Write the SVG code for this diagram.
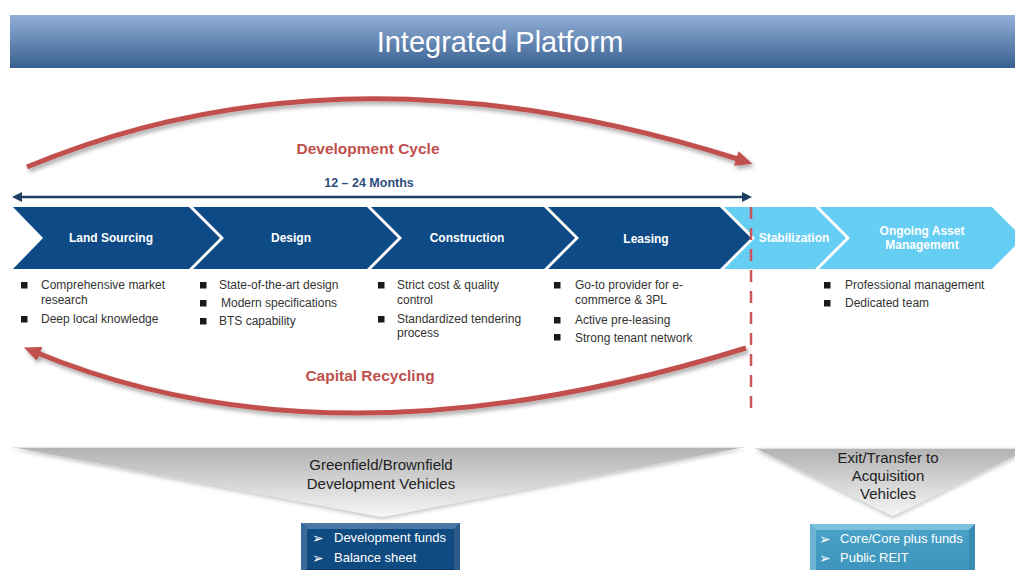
<svg xmlns="http://www.w3.org/2000/svg" width="1015" height="570" viewBox="0 0 1015 570">
<defs>
<linearGradient id="hdr" x1="0" y1="0" x2="0" y2="1">
<stop offset="0" stop-color="#92b0d8"/>
<stop offset="1" stop-color="#386090"/>
</linearGradient>
<linearGradient id="funnel" x1="0" y1="0" x2="0" y2="1">
<stop offset="0" stop-color="#b2b2b2"/>
<stop offset="1" stop-color="#f6f6f6"/>
</linearGradient>
<linearGradient id="teal" x1="0" y1="0" x2="0" y2="1">
<stop offset="0" stop-color="#4aa3c9"/>
<stop offset="1" stop-color="#3d93bb"/>
</linearGradient>
<filter id="shadow" x="-10%" y="-30%" width="120%" height="160%">
<feDropShadow dx="2" dy="3" stdDeviation="2" flood-color="#000" flood-opacity="0.35"/>
</filter>
<filter id="softshadow" x="-5%" y="-10%" width="110%" height="130%">
<feDropShadow dx="0" dy="2" stdDeviation="2" flood-color="#000" flood-opacity="0.25"/>
</filter>
<marker id="redhead" viewBox="0 0 17 15" markerWidth="17" markerHeight="15" refX="5" refY="7.5" orient="auto" markerUnits="userSpaceOnUse">
<path d="M0,0 L17,7.5 L0,15 z" fill="#c0504d"/>
</marker>
<marker id="navyhead" viewBox="0 0 10 10" markerWidth="10" markerHeight="10" refX="2" refY="5" orient="auto-start-reverse" markerUnits="userSpaceOnUse">
<path d="M0,0 L10,5 L0,10 z" fill="#1d3f61"/>
</marker>
</defs>
<style>
.dark{fill:#0e4b86}
.light{fill:#66cdf3}
.clabel{font-family:"Liberation Sans",Arial,sans-serif;font-size:12px;font-weight:bold;fill:#ffffff;text-anchor:middle}
.btxt{font-family:"Liberation Sans",Arial,sans-serif;font-size:12px;fill:#333333}
.sq{fill:#1a1a1a}
.red{font-family:"Liberation Sans",Arial,sans-serif;font-size:15.5px;font-weight:bold;fill:#c0504d;text-anchor:middle}
.ftxt{font-family:"Liberation Sans",Arial,sans-serif;font-size:15px;fill:#222222;text-anchor:middle}
.boxtxt{font-family:"Liberation Sans",Arial,sans-serif;font-size:13px;fill:#ffffff}
.arrowb{font-family:"DejaVu Sans",sans-serif;font-size:14px;fill:#ffffff}
.arc{fill:none;stroke:#c0504d;stroke-width:5;marker-end:url(#redhead)}
</style>
<rect width="1015" height="570" fill="#ffffff"/>

<g id="header">
<rect x="10" y="15" width="1005" height="53" fill="url(#hdr)"/>
<text x="500" y="52" font-family="Liberation Sans,Arial,sans-serif" font-size="29" fill="#ffffff" text-anchor="middle">Integrated Platform</text>
</g>

<g id="chevrons">
<g id="land-sourcing">
<polygon class="dark" points="13,207 189,207 220,238 189,269 13,269 43,238"/>
<text class="clabel" x="111" y="242">Land Sourcing</text>
</g>
<g id="design">
<polygon class="dark" points="193,207 367,207 398,238 367,269 193,269 224,238"/>
<text class="clabel" x="291" y="242">Design</text>
</g>
<g id="construction">
<polygon class="dark" points="371,207 544,207 575,238 544,269 371,269 402,238"/>
<text class="clabel" x="467" y="242">Construction</text>
</g>
<g id="leasing">
<polygon class="dark" points="548,207 720,207 751,238 720,269 548,269 579,238"/>
<text class="clabel" x="646" y="243">Leasing</text>
</g>
<g id="stabilization">
<polygon class="light" points="724,207 815,207 846,238 815,269 724,269 755,238"/>
<text class="clabel" x="794" y="242">Stabilization</text>
</g>
<g id="ongoing">
<polygon class="light" points="819,207 992,207 1023,238 992,269 819,269 850,238"/>
<text class="clabel" x="922" y="235">Ongoing Asset</text>
<text class="clabel" x="922" y="249">Management</text>
</g>
</g>

<g id="bullets">
<rect class="sq" x="21" y="282" width="6.5" height="6.5"/>
<text class="btxt" x="41" y="289">Comprehensive market</text>
<text class="btxt" x="41" y="304">research</text>
<rect class="sq" x="21" y="316" width="6.5" height="6.5"/>
<text class="btxt" x="41" y="323">Deep local knowledge</text>

<rect class="sq" x="200" y="282" width="6.5" height="6.5"/>
<text class="btxt" x="219" y="289">State-of-the-art design</text>
<rect class="sq" x="200" y="300" width="6.5" height="6.5"/>
<text class="btxt" x="221" y="307">Modern specifications</text>
<rect class="sq" x="200" y="318" width="6.5" height="6.5"/>
<text class="btxt" x="219" y="325">BTS capability</text>

<rect class="sq" x="378" y="282" width="6.5" height="6.5"/>
<text class="btxt" x="397" y="289">Strict cost &amp; quality</text>
<text class="btxt" x="397" y="304">control</text>
<rect class="sq" x="378" y="316" width="6.5" height="6.5"/>
<text class="btxt" x="397" y="323">Standardized tendering</text>
<text class="btxt" x="397" y="337">process</text>

<rect class="sq" x="554" y="282" width="6.5" height="6.5"/>
<text class="btxt" x="575" y="289">Go-to provider for e-</text>
<text class="btxt" x="575" y="304">commerce &amp; 3PL</text>
<rect class="sq" x="554" y="317" width="6.5" height="6.5"/>
<text class="btxt" x="575" y="324">Active pre-leasing</text>
<rect class="sq" x="554" y="334" width="6.5" height="6.5"/>
<text class="btxt" x="575" y="342">Strong tenant network</text>

<rect class="sq" x="824" y="282" width="6.5" height="6.5"/>
<text class="btxt" x="845" y="289">Professional management</text>
<rect class="sq" x="824" y="300" width="6.5" height="6.5"/>
<text class="btxt" x="845" y="307">Dedicated team</text>
</g>

<g id="connectors">
<g filter="url(#shadow)">
<path id="development-cycle" class="arc" d="M27,167 Q345,34 741,160"/>
<path id="capital-recycling" class="arc" d="M746,348 Q334,476 35,352"/>
</g>
<line id="months-span" x1="20" y1="197" x2="744" y2="197" stroke="#1d3f61" stroke-width="2.5" marker-start="url(#navyhead)" marker-end="url(#navyhead)"/>
<line id="divider" x1="751" y1="207" x2="751" y2="410" stroke="#c9565b" stroke-width="2.5" stroke-dasharray="12 9"/>
</g>

<g id="labels">
<text class="red" x="368" y="154">Development Cycle</text>
<text x="369" y="187" font-family="Liberation Sans,Arial,sans-serif" font-size="12.5" font-weight="bold" fill="#2c4f7c" text-anchor="middle">12 – 24 Months</text>
<text class="red" x="370" y="381">Capital Recycling</text>
</g>

<g id="development-vehicles">
<polygon points="12,447 745,447 382,517" fill="url(#funnel)" filter="url(#softshadow)"/>
<line x1="14" y1="447.5" x2="743" y2="447.5" stroke="#e2e2e2" stroke-width="1"/>
<text class="ftxt" x="381" y="470">Greenfield/Brownfield</text>
<text class="ftxt" x="381" y="489">Development Vehicles</text>
</g>

<g id="acquisition-vehicles">
<polygon points="755,448 1031,448 893,516" fill="url(#funnel)" filter="url(#softshadow)"/>
<line x1="757" y1="448.5" x2="1015" y2="448.5" stroke="#e2e2e2" stroke-width="1"/>
<text class="ftxt" x="888" y="463">Exit/Transfer to</text>
<text class="ftxt" x="888" y="481">Acquisition</text>
<text class="ftxt" x="888" y="499">Vehicles</text>
</g>

<g id="dev-funds-box">
<rect x="301" y="523" width="159" height="52" fill="#0f4a80"/>
<polygon points="301,523 460,523 454,529 307,529" fill="#4a78a6"/>
<polygon points="301,523 307,529 307,569 301,575" fill="#3a6a9a"/>
<polygon points="460,523 460,575 454,569 454,529" fill="#2c5a88"/>
<polygon points="301,575 307,569 454,569 460,575" fill="#0a3a66"/>
<text class="arrowb" x="312" y="543">➢</text>
<text class="boxtxt" x="334" y="542">Development funds</text>
<text class="arrowb" x="312" y="563">➢</text>
<text class="boxtxt" x="334" y="562">Balance sheet</text>
</g>

<g id="acq-funds-box">
<rect x="810" y="524" width="165" height="52" fill="url(#teal)"/>
<polygon points="810,524 975,524 969,530 816,530" fill="#7cc0de"/>
<polygon points="810,524 816,530 816,570 810,576" fill="#69b3d4"/>
<polygon points="975,524 975,576 969,570 969,530" fill="#3a8cb4"/>
<polygon points="810,576 816,570 969,570 975,576" fill="#2f7aa0"/>
<text class="arrowb" x="819" y="544">➢</text>
<text class="boxtxt" x="840" y="543">Core/Core plus funds</text>
<text class="arrowb" x="819" y="563">➢</text>
<text class="boxtxt" x="840" y="562">Public REIT</text>
</g>
</svg>
